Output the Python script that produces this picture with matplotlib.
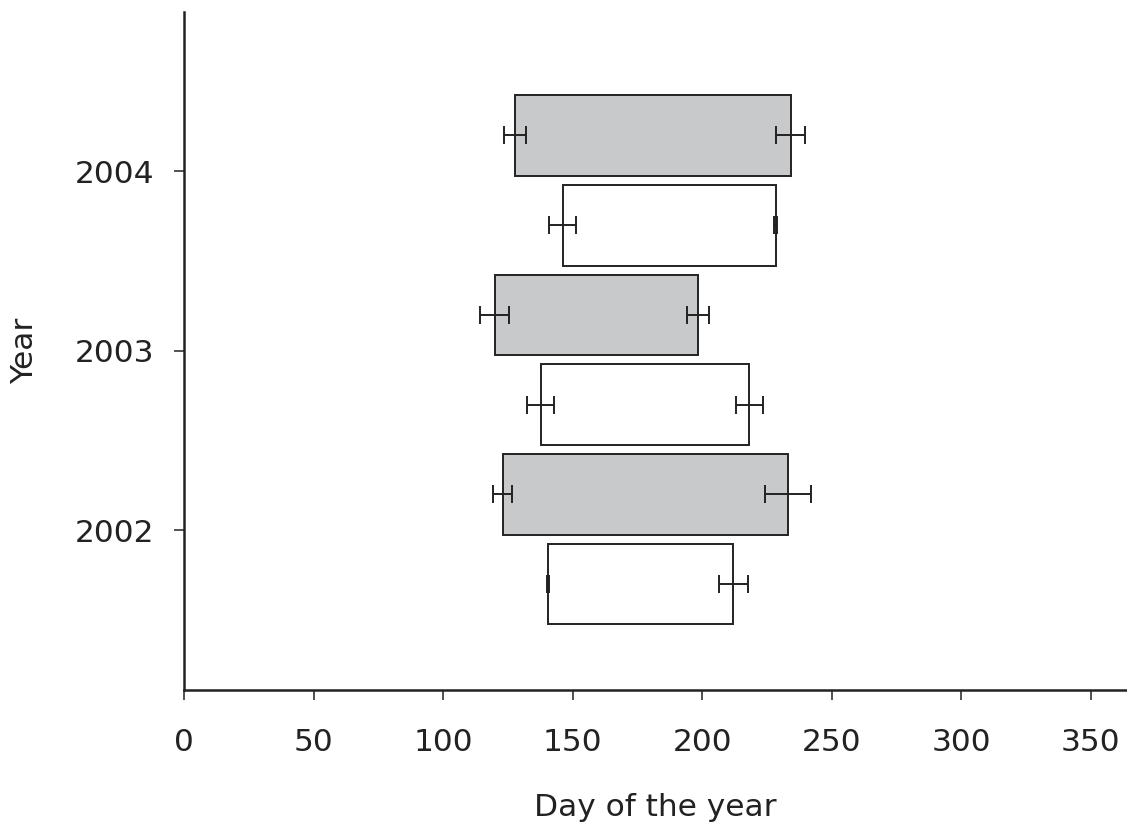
import matplotlib
matplotlib.use("Agg")
import matplotlib.pyplot as plt
import numpy as np

plt.rcParams['font.family'] = ['DejaVu Sans']

years = [2002, 2003, 2004]
tick_labels = ["2002", "2003", "2004"]

# grey series (upper bar of each year)
grey_start = [122.9, 119.8, 127.7]
grey_start_err = [3.7, 5.7, 4.2]
grey_end = [233.0, 198.3, 234.2]
grey_end_err = [8.8, 4.2, 5.6]

# white series (lower bar of each year)
white_start = [140.4, 137.6, 146.1]
white_start_err = [0.4, 5.3, 5.3]
white_end = [211.9, 218.2, 228.4]
white_end_err = [5.6, 5.3, 0.6]

x_ticks = [0, 50, 100, 150, 200, 250, 300, 350]

fig = plt.figure(figsize=(11.27, 8.31), dpi=100)
ax = fig.add_axes([0.1635, 0.1697, 1.0 - 0.1635, 0.9856 - 0.1697])

edge = '#222222'
lw_bar = 1.4
h = 0.45
y = np.array(years, dtype=float)
yg = y + 0.2
yw = y - 0.3

gs = np.array(grey_start); ge = np.array(grey_end)
ws = np.array(white_start); we = np.array(white_end)

ax.barh(yg, ge - gs, left=gs, height=h, color='#c8c9cb', edgecolor=edge, linewidth=lw_bar, zorder=2)
ax.barh(yw, we - ws, left=ws, height=h, color='white', edgecolor=edge, linewidth=lw_bar, zorder=2)

ekw = dict(fmt='none', ecolor=edge, elinewidth=1.4, capsize=6.8, capthick=1.4, zorder=3)
ax.errorbar(gs, yg, xerr=grey_start_err, **ekw)
ax.errorbar(ge, yg, xerr=grey_end_err, **ekw)
ax.errorbar(ws, yw, xerr=white_start_err, **ekw)
ax.errorbar(we, yw, xerr=white_end_err, **ekw)

ax.set_xlim(0, 364)
ax.set_ylim(2001.11, 2004.888)
ax.set_xticks(x_ticks)
ax.set_yticks(years)
ax.set_yticklabels(tick_labels)

for s in ['top', 'right']:
    ax.spines[s].set_visible(False)
for s in ['left', 'bottom']:
    ax.spines[s].set_linewidth(1.8)
    ax.spines[s].set_color('#222222')

ax.tick_params(axis='both', direction='out', length=7.5, width=1.1, colors='#222222',
               labelsize=22.5, labelcolor='#222222')
ax.tick_params(axis='x', pad=20)
ax.tick_params(axis='y', pad=14)

ax.set_xlabel('Day of the year', fontsize=22.5, color='#222222', labelpad=26)
ax.set_ylabel('Year', fontsize=22.5, color='#222222', labelpad=26)

fig.savefig('out.png', dpi=100)
